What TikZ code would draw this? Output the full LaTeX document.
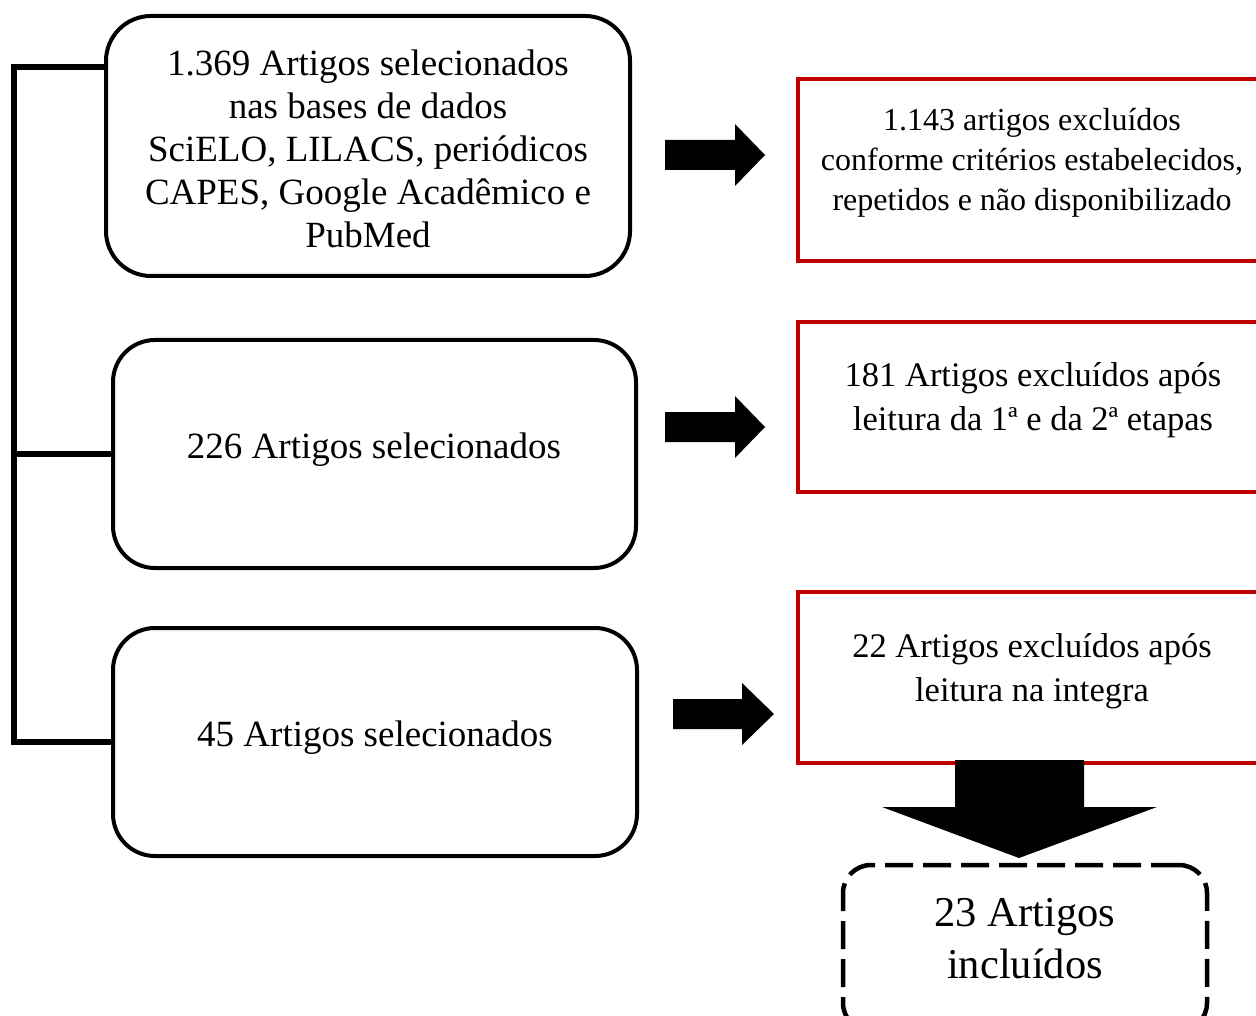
\documentclass[tikz,border=0pt]{standalone}
\usepackage{fontspec}
\setmainfont{Liberation Serif}
\definecolor{redb}{HTML}{C00000}
\begin{document}
\begin{tikzpicture}[x=1pt,y=-1pt,
  blackbox/.style={draw=black,line width=4pt,rounded corners=42pt,inner sep=0pt,fill=white},
  redbox/.style={draw=redb,line width=4pt,inner sep=0pt},
  dashbox/.style={draw=black,line width=4.5pt,dash pattern=on 28pt off 10pt,rounded corners=28pt,inner sep=0pt},
  bigtxt/.style={align=center,font=\fontsize{37}{43}\selectfont},
  redtxt/.style={align=center,font=\fontsize{32}{40}\selectfont},
  redtxtb/.style={align=center,font=\fontsize{34.5}{44}\selectfont},
  fintxt/.style={align=center,font=\fontsize{42.5}{52}\selectfont},
  bracket/.style={line width=5.5pt},
  blockarrow/.style={fill=black}]
\useasboundingbox (0,0) rectangle (1256,1016);
\clip (0,0) rectangle (1256,1016);

% black rounded boxes
\node[blackbox,minimum width=524pt,minimum height=260pt,rounded corners=45pt] (b1) at (368,146) {};
\node[blackbox,minimum width=523pt,minimum height=228pt] (b2) at (374.5,454) {};
\node[blackbox,minimum width=524pt,minimum height=228pt] (b3) at (375,742) {};
\node[bigtxt] (t1) at (368,149) {1.369 Artigos selecionados\\nas bases de dados\\SciELO, LILACS, periódicos\\CAPES, Google Acadêmico e\\PubMed};
\node[bigtxt] (t2) at (374,450) {226 Artigos selecionados};
\node[bigtxt] (t3) at (375,738) {45 Artigos selecionados};

% bracket
\coordinate (k1) at (b1.west |- 0,67);
\coordinate (k0) at (14,67);
\coordinate (km) at (14,454);
\coordinate (kb) at (14,742);
\draw[bracket] (k1) -- (k0) -- (kb) -- (b3.west);
\draw[bracket] (km) -- (b2.west);

% red boxes
\node[redbox,minimum width=468pt,minimum height=182pt] (r1) at (1032,170) {};
\node[redbox,minimum width=468pt,minimum height=170pt] (r2) at (1032,407) {};
\node[redbox,minimum width=468pt,minimum height=171pt] (r3) at (1032,677.5) {};
\node[redtxt] (s1) at (1032,163) {1.143 artigos excluídos\\conforme critérios estabelecidos,\\repetidos e não disponibilizado};
\node[redtxtb] (s2) at (1033,400) {181 Artigos excluídos após\\leitura da 1ª e da 2ª etapas};
\node[redtxtb] (s3) at (1032,671) {22 Artigos excluídos após\\leitura na integra};

% right block arrows
\fill[blockarrow] (665,140) -- (735,140) -- (735,124) -- (765,155) -- (735,186) -- (735,170) -- (665,170) -- cycle;
\fill[blockarrow] (665,412) -- (735,412) -- (735,396) -- (765,427) -- (735,458) -- (735,442) -- (665,442) -- cycle;
\fill[blockarrow] (673,699) -- (742,699) -- (742,683) -- (774,714) -- (742,745) -- (742,729) -- (673,729) -- cycle;

% down block arrow
\fill[blockarrow] (955,760) -- (1084,760) -- (1084,807) -- (1157,807) -- (1019,858) -- (882,807) -- (955,807) -- cycle;

% final dashed box
\node[dashbox,minimum width=364pt,minimum height=166pt] (d) at (1025,948) {};
\node[fintxt] (f) at (1025,939) {23 Artigos\\incluídos};
\end{tikzpicture}
\end{document}
